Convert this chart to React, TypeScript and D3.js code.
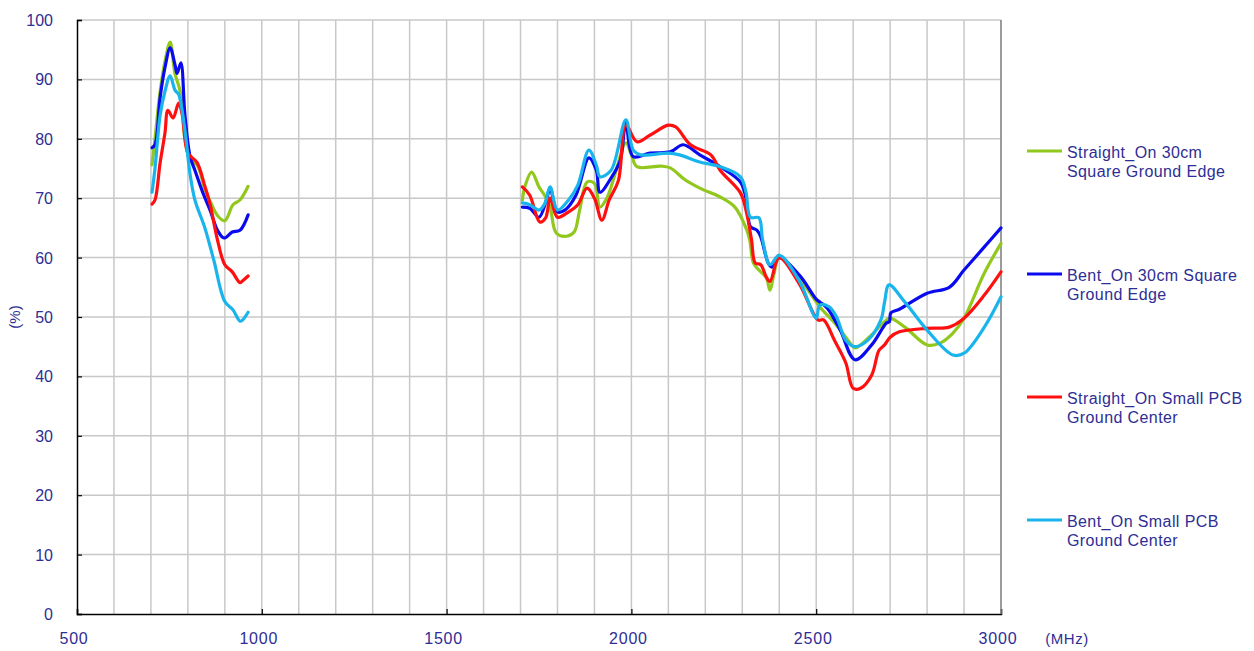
import { useEffect, useRef } from 'react';
import * as d3 from 'd3';

type Pt = [number, number];

// frequency (MHz), efficiency (%)
const greenLow: Pt[] = [[703, 75.6], [711, 80], [725, 88], [738, 93], [752, 96.3], [765, 91], [779, 88], [792, 80], [806, 76.4], [825, 75.6], [846, 71.5], [860, 69.5], [881, 67], [900, 66.2], [922, 68.9], [941, 69.7], [963, 72]];
const blueLow: Pt[] = [[703, 78.5], [711, 79], [725, 87], [738, 92], [752, 95.3], [765, 92.5], [771, 91], [781, 92.8], [792, 84], [806, 77], [819, 74.7], [840, 71], [860, 68], [881, 64.5], [898, 63.3], [920, 64.3], [941, 64.6], [963, 67.2]];
const redLow: Pt[] = [[703, 69], [711, 69.7], [725, 76], [738, 81], [746, 84.8], [760, 83.5], [775, 86], [785, 84], [800, 77.6], [825, 76], [846, 72], [860, 69], [880, 63], [900, 58.8], [920, 57.6], [941, 55.8], [950, 56.2], [963, 56.9]];
const cyanLow: Pt[] = [[703, 71], [711, 75], [725, 84], [738, 88], [752, 90.6], [765, 88.2], [775, 87.5], [781, 86], [792, 81.5], [806, 74], [819, 69.7], [846, 65], [870, 59.6], [900, 52.6], [922, 51.2], [941, 49.3], [948, 49.5], [963, 50.8]];

const greenHigh: Pt[] = [[1705, 69.7], [1712, 72], [1730, 74.4], [1750, 71.9], [1765, 70.5], [1780, 68.5], [1797, 64.1], [1825, 63.6], [1845, 64.3], [1860, 68], [1880, 72.7], [1900, 72.5], [1915, 68.5], [1935, 70.2], [1955, 73.9], [1985, 79.3], [2000, 77.3], [2015, 75.3], [2080, 75.4], [2105, 75.1], [2145, 73.1], [2185, 71.7], [2240, 70.2], [2280, 68.5], [2310, 65], [2320, 63], [2330, 59.1], [2345, 57.9], [2365, 56.6], [2375, 54.5], [2385, 57], [2400, 60], [2455, 56.5], [2510, 51.7], [2550, 49], [2580, 46.6], [2605, 44.8], [2620, 45.3], [2650, 47], [2690, 49.5], [2700, 49.8], [2740, 48.3], [2800, 45.3], [2835, 45.6], [2870, 47.3], [2900, 49.8], [2955, 57.4], [3000, 62.4]];
const blueHigh: Pt[] = [[1705, 68.5], [1725, 68.3], [1750, 66.8], [1770, 69.7], [1780, 71.7], [1800, 67.7], [1820, 68], [1850, 70.5], [1885, 76.8], [1905, 74.7], [1915, 71], [1945, 73.4], [1970, 76.4], [1985, 82.7], [2005, 77], [2050, 77.6], [2105, 77.8], [2140, 79], [2185, 77.3], [2240, 75.3], [2295, 72.7], [2310, 70], [2315, 67.5], [2322, 65.2], [2340, 64.6], [2350, 63.5], [2370, 59.1], [2380, 58.4], [2400, 60], [2455, 57], [2500, 53], [2510, 52.5], [2530, 51.5], [2565, 47.8], [2605, 42.8], [2650, 45.3], [2690, 49], [2698, 49.2], [2702, 50.7], [2725, 51.3], [2800, 54], [2860, 55], [2900, 57.9], [2955, 61.8], [3000, 65]];
const redHigh: Pt[] = [[1705, 71.9], [1725, 70.5], [1752, 66], [1768, 66.7], [1780, 70], [1800, 66.8], [1830, 67.7], [1855, 68.9], [1880, 71.7], [1900, 70], [1920, 66.3], [1940, 69.7], [1965, 73], [1985, 82.3], [2015, 79.5], [2050, 80.6], [2100, 82.3], [2120, 82], [2160, 79], [2215, 77.3], [2240, 74.7], [2295, 70.9], [2310, 68], [2325, 63], [2335, 59.1], [2350, 58.8], [2365, 56.7], [2375, 56], [2400, 60], [2455, 55.5], [2505, 49.5], [2520, 49.5], [2550, 46], [2580, 42.3], [2600, 38], [2620, 38], [2650, 40.2], [2670, 44.4], [2685, 45.3], [2700, 46.6], [2725, 47.5], [2800, 48.1], [2860, 48.3], [2900, 49.8], [2955, 53.7], [3000, 57.6]];
const cyanHigh: Pt[] = [[1705, 69.2], [1725, 68.9], [1750, 68], [1765, 69], [1780, 71.9], [1800, 68], [1830, 69.7], [1855, 72.2], [1885, 78.1], [1905, 75.6], [1915, 73.6], [1945, 74.7], [1985, 83.2], [2005, 78.1], [2025, 77.3], [2100, 77.6], [2130, 77.3], [2185, 76.1], [2240, 75.3], [2295, 73.6], [2310, 71], [2322, 66.8], [2345, 66.7], [2355, 63], [2375, 58.8], [2400, 60.4], [2455, 56], [2500, 49.8], [2510, 52], [2535, 51.7], [2555, 50], [2580, 46.1], [2605, 45], [2640, 46.1], [2675, 49.5], [2685, 52.5], [2697, 55.4], [2740, 52.5], [2800, 47.8], [2870, 43.6], [2900, 43.9], [2955, 48.3], [3000, 53.4]];

const seriesNames = [
  ['Straight_On 30cm', 'Square Ground Edge'],
  ['Bent_On 30cm Square', 'Ground Edge'],
  ['Straight_On Small PCB', 'Ground Center'],
  ['Bent_On Small PCB', 'Ground Center'],
];
const seriesColors = ['#92C81E', '#0A0AEE', '#FF1010', '#1AB4EC'];
const seriesData = [
  [greenLow, greenHigh],
  [blueLow, blueHigh],
  [redLow, redHigh],
  [cyanLow, cyanHigh],
];

const xTicks = [500, 1000, 1500, 2000, 2500, 3000];
const yTicks = [0, 10, 20, 30, 40, 50, 60, 70, 80, 90, 100];

const textColor = '#2E2E94';
const font = 'Liberation Sans, Arial, sans-serif';

const App = () => {
  const ref = useRef<SVGSVGElement | null>(null);
  const width = 1254;
  const height = 651;
  const margin = { left: 77, right: 253, top: 20, bottom: 37 };

  useEffect(() => {
    if (!ref.current) return;
    const svg = d3.select(ref.current);
    svg.selectAll('*').remove();

    const x = d3.scaleLinear().domain([500, 3000]).range([margin.left, width - margin.right]);
    const y = d3.scaleLinear().domain([0, 100]).range([height - margin.bottom, margin.top]);

    // grid
    const grid = svg.append('g');
    grid
      .selectAll('line.v')
      .data(d3.range(600, 3001, 100))
      .enter()
      .append('line')
      .attr('x1', (d) => x(d))
      .attr('x2', (d) => x(d))
      .attr('y1', y(0))
      .attr('y2', y(100))
      .attr('stroke', '#c8c8c8')
      .attr('stroke-width', 1.5);
    grid
      .selectAll('line.h')
      .data(yTicks.slice(1))
      .enter()
      .append('line')
      .attr('x1', x(500))
      .attr('x2', x(3000))
      .attr('y1', (d) => y(d))
      .attr('y2', (d) => y(d))
      .attr('stroke', '#c8c8c8')
      .attr('stroke-width', 1.5);

    // axes
    const yAxis = svg
      .append('g')
      .attr('transform', `translate(${x(500)},0)`)
      .call(d3.axisRight(y).tickValues(yTicks).tickSize(5).tickFormat(() => ''));
    yAxis.select('.domain').attr('stroke', '#000').attr('stroke-width', 1.5);
    yAxis.selectAll('.tick line').attr('stroke', '#000').attr('stroke-width', 1.2);

    const xAxis = svg
      .append('g')
      .attr('transform', `translate(0,${y(0)})`)
      .call(d3.axisTop(x).tickValues(xTicks).tickSize(5).tickFormat(() => ''));
    xAxis.select('.domain').attr('stroke', '#000').attr('stroke-width', 1.5);
    xAxis.selectAll('.tick line').attr('stroke', '#000').attr('stroke-width', 1.2);

    svg
      .append('line')
      .attr('x1', x(3000))
      .attr('x2', x(3000))
      .attr('y1', y(0))
      .attr('y2', y(100))
      .attr('stroke', '#888')
      .attr('stroke-width', 1.5);

    // tick labels
    svg
      .append('g')
      .selectAll('text')
      .data(yTicks)
      .enter()
      .append('text')
      .attr('x', 53)
      .attr('y', (d) => y(d) + 6)
      .attr('text-anchor', 'end')
      .attr('fill', textColor)
      .style('font-family', font)
      .style('font-size', '16px')
      .text((d) => d);

    svg
      .append('g')
      .selectAll('text')
      .data(xTicks)
      .enter()
      .append('text')
      .attr('x', (d) => x(d) - 3)
      .attr('y', 644)
      .attr('text-anchor', 'middle')
      .attr('fill', textColor)
      .style('font-family', font)
      .style('font-size', '16px')
      .style('letter-spacing', '0.8px')
      .text((d) => d);

    svg
      .append('text')
      .attr('x', 1067)
      .attr('y', 644)
      .attr('text-anchor', 'middle')
      .attr('fill', textColor)
      .style('font-family', font)
      .style('font-size', '15px')
      .style('letter-spacing', '0.5px')
      .text('(MHz)');

    svg
      .append('text')
      .attr('transform', `translate(20,317) rotate(-90)`)
      .attr('text-anchor', 'middle')
      .attr('fill', textColor)
      .style('font-family', font)
      .style('font-size', '15px')
      .text('(%)');

    // lines
    const line = d3
      .line<Pt>()
      .x((d) => x(d[0]))
      .y((d) => y(d[1]))
      .curve(d3.curveCatmullRom.alpha(0.5));

    seriesData.forEach((segs, i) => {
      segs.forEach((seg) => {
        svg
          .append('path')
          .datum(seg)
          .attr('d', line)
          .attr('fill', 'none')
          .attr('stroke', seriesColors[i])
          .attr('stroke-width', 3.2)
          .attr('stroke-linejoin', 'round')
          .attr('stroke-linecap', 'round');
      });
    });

    // legend
    const legend = svg.append('g');
    seriesNames.forEach((name, i) => {
      const ly = 151 + i * 123;
      legend
        .append('line')
        .attr('x1', 1027)
        .attr('x2', 1062)
        .attr('y1', ly)
        .attr('y2', ly)
        .attr('stroke', seriesColors[i])
        .attr('stroke-width', 3);
      name.forEach((t, j) => {
        legend
          .append('text')
          .attr('x', 1067)
          .attr('y', ly + 7 + j * 19)
          .attr('fill', textColor)
          .style('font-family', font)
          .style('font-size', '16px')
          .style('letter-spacing', '0.4px')
          .text(t);
      });
    });
  }, [margin.left, margin.right, margin.top, margin.bottom]);

  return (
    <div>
      <svg
        ref={ref}
        width={width}
        height={height}
        style={{ position: 'absolute', left: 0, top: 0, background: '#fff' }}
      />
    </div>
  );
};

export default App;
